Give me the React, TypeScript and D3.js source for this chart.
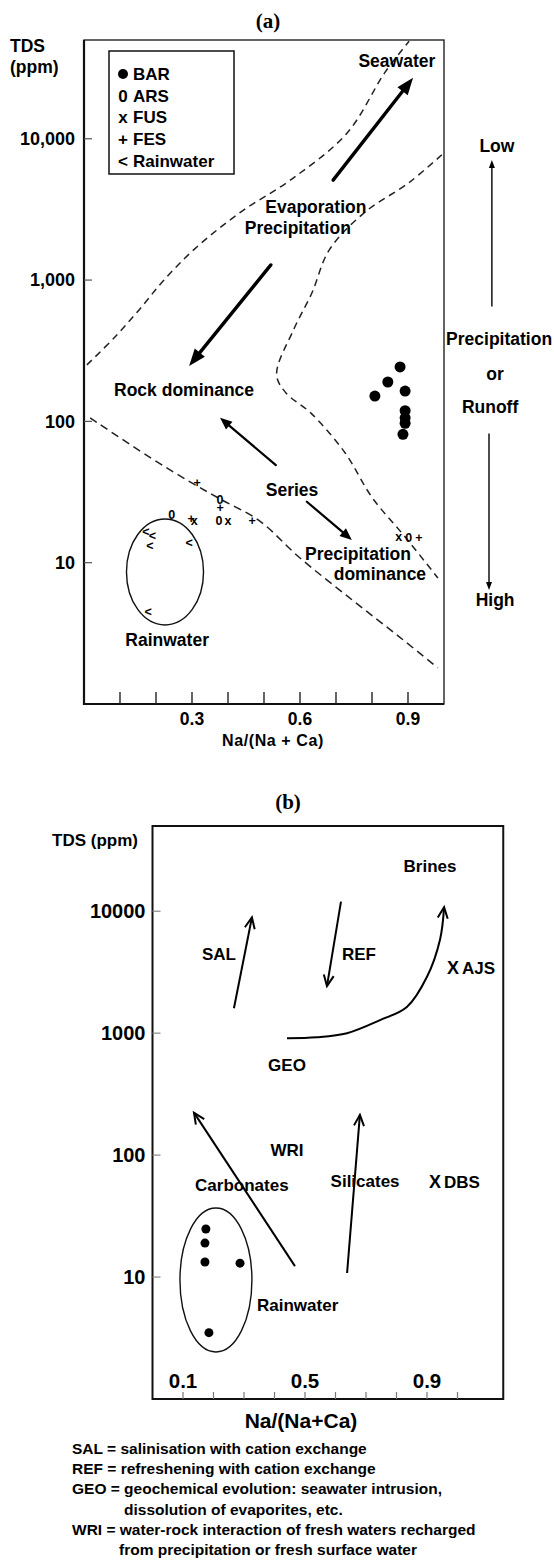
import React from "react";
import * as d3 from "d3";

const W = 554;
const H = 1561;
const SANS = "'Liberation Sans', Arial, Helvetica, sans-serif";
const SERIF = "'Liberation Serif', 'Times New Roman', serif";

// ---------- panel (a): Gibbs diagram, [Na/(Na+Ca), TDS ppm] ----------
const xTicksA = [0.1, 0.2, 0.3, 0.4, 0.5, 0.6, 0.7, 0.8, 0.9];
const xLabelsA = [0.3, 0.6, 0.9];
const yTicksA = [10, 100, 1000, 10000];

const barA = [[0.878, 243], [0.844, 190], [0.808, 151], [0.892, 164], [0.892, 119], [0.892, 106], [0.892, 97], [0.886, 81]];
const arsA = [[0.244, 22], [0.378, 28], [0.375, 20], [0.902, 15]];
const fusA = [[0.306, 20], [0.4, 20], [0.874, 15.3]];
const fesA = [[0.314, 37], [0.378, 24.4], [0.467, 19.7], [0.93, 15], [0.298, 20.5]];
const rainA = [[0.172, 16.5], [0.19, 15.5], [0.183, 13.1], [0.292, 13.8], [0.178, 4.5]];

const seriesA = [
  { name: "BAR", sym: "dot", data: barA },
  { name: "ARS", sym: "0", data: arsA },
  { name: "FUS", sym: "x", data: fusA },
  { name: "FES", sym: "+", data: fesA },
  { name: "Rainwater", sym: "<", data: rainA },
];

const upperBoundA = [[0.008, 251], [0.086, 396], [0.153, 615], [0.219, 980], [0.306, 1650], [0.433, 3000], [0.578, 5200], [0.731, 11000], [0.836, 29500], [0.903, 49000]];
const rightBoundA = [[0.994, 7700], [0.903, 4900], [0.778, 2990], [0.681, 1630], [0.633, 810], [0.583, 450], [0.535, 215], [0.56, 160], [0.631, 114], [0.725, 60], [0.8, 29], [0.894, 15], [0.983, 7.8]];
const lowerBoundA = [[0.017, 106], [0.181, 56], [0.297, 37], [0.383, 27.8], [0.485, 20], [0.6, 10.8], [0.747, 5.4], [0.875, 3.0], [0.983, 1.8]];

const arrowsA = [
  { from: [0.692, 5100], to: [0.914, 27000], heavy: true },
  { from: [0.519, 1280], to: [0.292, 247], heavy: true },
  { from: [0.533, 49], to: [0.378, 106], heavy: false },
  { from: [0.619, 27], to: [0.744, 14.5], heavy: false },
];

const labelsA = [
  { text: "Seawater", at: [0.869, 32200] },
  { text: "Evaporation", at: [0.644, 2985] },
  { text: "Precipitation", at: [0.594, 2120] },
  { text: "Rock dominance", at: [0.278, 151] },
  { text: "Series", at: [0.578, 29.6] },
  { text: "Precipitation", at: [0.761, 10.5] },
  { text: "dominance", at: [0.822, 7.5] },
  { text: "Rainwater", at: [0.231, 2.57] },
  { text: "Low", at: [1.147, 8070] },
  { text: "Precipitation", at: [1.153, 347] },
  { text: "or", at: [1.142, 196] },
  { text: "Runoff", at: [1.128, 114] },
  { text: "High", at: [1.142, 4.94] },
];
const runoffArrowsA = [
  { from: [1.133, 656], to: [1.133, 7080] },
  { from: [1.125, 81.5], to: [1.125, 6.4] },
];
const rainEllipseA = { cx: 0.225, cy: 8.6, rx: 0.107, ry: 0.375 };

// ---------- panel (b) ----------
const xTicksB = [0.1, 0.2, 0.3, 0.4, 0.5, 0.6, 0.7, 0.8, 0.9, 1.0];
const xLabelsB = [0.1, 0.5, 0.9];
const yTicksB = [10, 100, 1000, 10000];

const rainB = [[0.175, 24.8], [0.172, 19], [0.172, 13.3], [0.287, 13], [0.185, 3.5]];
const springsB = [
  { name: "AJS", at: [0.985, 3435] },
  { name: "DBS", at: [0.926, 60] },
];
const rainEllipseB = { cx: 0.208, cy: 9.46, rx: 0.118, ry: 0.59 };

const arrowsB = [
  { from: [0.267, 1600], to: [0.326, 8900] },
  { from: [0.618, 12000], to: [0.572, 2430] },
  { from: [0.467, 12.3], to: [0.136, 223] },
  { from: [0.638, 10.8], to: [0.68, 214] },
];
const geoCurveB = [[0.441, 910], [0.539, 927], [0.638, 1000], [0.746, 1280], [0.834, 1640], [0.9, 2900], [0.943, 5900], [0.956, 10800]];

const labelsB = [
  { text: "Brines", at: [0.91, 21000] },
  { text: "SAL", at: [0.218, 3990] },
  { text: "REF", at: [0.677, 3990] },
  { text: "GEO", at: [0.441, 490] },
  { text: "WRI", at: [0.441, 98] },
  { text: "Carbonates", at: [0.293, 50.8] },
  { text: "Silicates", at: [0.697, 54.8] },
];

const notesB = [
  ["SAL = salinisation with cation exchange", 0],
  ["REF = refreshening with cation exchange", 0],
  ["GEO = geochemical evolution: seawater intrusion,", 0],
  ["dissolution of evaporites, etc.", 1],
  ["WRI = water-rock interaction of fresh waters recharged", 0],
  ["from precipitation or fresh surface water", 2],
];

// scales
const xa = d3.scaleLinear().domain([0, 1]).range([84, 444]);
const ya = d3.scaleLog().domain([1, 50000]).range([704, 40]);
const xb = d3.scaleLinear().domain([0, 1.15]).range([152.5, 503.25]);
const yb = d3.scaleLog().domain([1, 50000]).range([1399, 826]);

function head(x1, y1, x2, y2, len, half) {
  const L = Math.hypot(x2 - x1, y2 - y1);
  const ux = (x2 - x1) / L, uy = (y2 - y1) / L;
  const bx = x2 - ux * len, by = y2 - uy * len;
  return {
    bx, by,
    l: [bx - uy * half, by + ux * half],
    r: [bx + uy * half, by - ux * half],
  };
}

function FilledArrow({ x1, y1, x2, y2, sw, len, half }) {
  const h = head(x1, y1, x2, y2, len, half);
  return (
    <g>
      <line x1={x1} y1={y1} x2={h.bx} y2={h.by} stroke="#000" strokeWidth={sw} strokeLinecap="round" />
      <polygon points={`${x2},${y2} ${h.l[0]},${h.l[1]} ${h.r[0]},${h.r[1]}`} fill="#000" />
    </g>
  );
}

function OpenHead({ x1, y1, x2, y2 }) {
  const h = head(x1, y1, x2, y2, 11, 5);
  return <path d={`M${h.l[0]},${h.l[1]}L${x2},${y2}L${h.r[0]},${h.r[1]}`} fill="none" stroke="#000" strokeWidth={2} strokeLinejoin="miter" />;
}

function Glyph({ sym, x, y }) {
  if (sym === "dot") return <circle cx={x} cy={y} r={5.5} fill="#000" />;
  return (
    <text x={x} y={y} dy="0.35em" textAnchor="middle" fontSize={12.5} fontFamily={SANS}>
      {sym}
    </text>
  );
}

function PanelA() {
  const dash = d3.line().x(d => xa(d[0])).y(d => ya(d[1])).curve(d3.curveCatmullRom.alpha(0.5));
  const fmt = d3.format(",");
  const [x0, x1] = xa.range();
  const [yBot, yTop] = ya.range();
  const e = rainEllipseA;
  return (
    <g fontFamily={SANS} fontWeight="bold">
      <text x={268} y={28} textAnchor="middle" fontFamily={SERIF} fontSize={21} fontWeight="bold">(a)</text>
      <text x={10} y={52} fontSize={17.5}>TDS</text>
      <text x={10} y={73} fontSize={17.5}>(ppm)</text>

      {/* frame */}
      <rect x={x0} y={yTop} width={x1 - x0} height={yBot - yTop} fill="none" stroke="#111" strokeWidth={1.3} />
      <line x1={x0} y1={yTop} x2={x0} y2={yBot + 1} stroke="#111" strokeWidth={2.2} />
      <line x1={x0} y1={yBot} x2={x1} y2={yBot} stroke="#111" strokeWidth={2.2} />

      {yTicksA.map(t => (
        <g key={t}>
          <line x1={x0} x2={x0 + 8} y1={ya(t)} y2={ya(t)} stroke="#555" strokeWidth={1.2} />
          <text x={x0 - 9} y={ya(t)} dy="0.35em" textAnchor="end" fontSize={18}>{fmt(t)}</text>
        </g>
      ))}
      {xTicksA.map(t => (
        <line key={t} x1={xa(t)} x2={xa(t)} y1={yBot - 12} y2={yBot} stroke="#222" strokeWidth={1.4} />
      ))}
      {xLabelsA.map(t => (
        <text key={t} x={xa(t)} y={725} textAnchor="middle" fontSize={17.5}>{t.toFixed(1)}</text>
      ))}
      <text x={(x0 + x1) / 2 + 9} y={746} textAnchor="middle" fontSize={16} letterSpacing={0.6}>Na/(Na + Ca)</text>

      {/* dashed boundaries */}
      {[upperBoundA, rightBoundA, lowerBoundA].map((b, i) => (
        <path key={i} d={dash(b)} fill="none" stroke="#222" strokeWidth={1.5} strokeDasharray={i === 2 ? "8 5" : "7 5"} />
      ))}

      <ellipse cx={xa(e.cx)} cy={ya(e.cy)} rx={xa(e.cx + e.rx) - xa(e.cx)} ry={ya(e.cy) - ya(e.cy * Math.pow(10, e.ry))} fill="none" stroke="#111" strokeWidth={1.4} />

      {arrowsA.map((a, i) => (
        <FilledArrow key={i} x1={xa(a.from[0])} y1={ya(a.from[1])} x2={xa(a.to[0])} y2={ya(a.to[1])}
          sw={a.heavy ? 3.4 : 2.2} len={a.heavy ? 17 : 12} half={a.heavy ? 6.5 : 5} />
      ))}
      {runoffArrowsA.map((a, i) => (
        <FilledArrow key={i} x1={xa(a.from[0])} y1={ya(a.from[1])} x2={xa(a.to[0])} y2={ya(a.to[1])} sw={1.4} len={8} half={3} />
      ))}

      {labelsA.map((l, i) => (
        <text key={i} x={xa(l.at[0])} y={ya(l.at[1])} textAnchor="middle" fontSize={17.5}>{l.text}</text>
      ))}

      {seriesA.map(s => s.data.map((d, i) => (
        <Glyph key={s.name + i} sym={s.sym} x={xa(d[0])} y={ya(d[1])} />
      )))}

      {/* legend */}
      <rect x={109} y={51} width={125} height={123} fill="#fff" stroke="#111" strokeWidth={1.5} />
      {seriesA.map((s, i) => (
        <g key={s.name} transform={`translate(0,${80 + i * 21.7})`}>
          {s.sym === "dot"
            ? <circle cx={123} cy={-6} r={5} fill="#000" />
            : <text x={123} y={0} textAnchor="middle" fontSize={17}>{s.sym}</text>}
          <text x={133} y={0} fontSize={17}>{s.name}</text>
        </g>
      ))}
    </g>
  );
}

function PanelB() {
  const curve = d3.line().x(d => xb(d[0])).y(d => yb(d[1])).curve(d3.curveCatmullRom.alpha(0.5));
  const [x0, x1] = xb.range();
  const [yBot, yTop] = yb.range();
  const e = rainEllipseB;
  const n = geoCurveB.length;
  const pA = geoCurveB[n - 2], pB = geoCurveB[n - 1];
  return (
    <g fontFamily={SANS} fontWeight="bold">
      <text x={288} y={809} textAnchor="middle" fontFamily={SERIF} fontSize={21} fontWeight="bold">(b)</text>
      <text x={52} y={846} fontSize={17}>TDS (ppm)</text>

      <rect x={x0} y={yTop} width={x1 - x0} height={yBot - yTop} fill="none" stroke="#111" strokeWidth={2} />

      {yTicksB.map(t => (
        <g key={t}>
          <line x1={x0} x2={x0 + 8} y1={yb(t)} y2={yb(t)} stroke="#888" strokeWidth={1.2} />
          <text x={x0 - 7} y={yb(t)} dy="0.35em" textAnchor="end" fontSize={20}>{t}</text>
        </g>
      ))}
      {xTicksB.map(t => (
        <line key={t} x1={xb(t)} x2={xb(t)} y1={yBot - 7} y2={yBot} stroke="#777" strokeWidth={1.2} />
      ))}
      {xLabelsB.map(t => (
        <text key={t} x={xb(t)} y={1388} textAnchor="middle" fontSize={20.5}>{t.toFixed(1)}</text>
      ))}
      <text x={301} y={1428} textAnchor="middle" fontSize={21}>Na/(Na+Ca)</text>

      <ellipse cx={xb(e.cx)} cy={yb(e.cy)} rx={xb(e.cx + e.rx) - xb(e.cx)} ry={yb(e.cy) - yb(e.cy * Math.pow(10, e.ry))} fill="none" stroke="#111" strokeWidth={1.4} />
      {rainB.map((d, i) => <circle key={i} cx={xb(d[0])} cy={yb(d[1])} r={4.5} fill="#000" />)}
      <text x={257} y={1311} fontSize={17}>Rainwater</text>

      {arrowsB.map((a, i) => (
        <g key={i}>
          <line x1={xb(a.from[0])} y1={yb(a.from[1])} x2={xb(a.to[0])} y2={yb(a.to[1])} stroke="#000" strokeWidth={2} />
          <OpenHead x1={xb(a.from[0])} y1={yb(a.from[1])} x2={xb(a.to[0])} y2={yb(a.to[1])} />
        </g>
      ))}
      <path d={curve(geoCurveB)} fill="none" stroke="#000" strokeWidth={2} />
      <OpenHead x1={xb(pA[0])} y1={yb(pA[1])} x2={xb(pB[0])} y2={yb(pB[1])} />

      {labelsB.map((l, i) => (
        <text key={i} x={xb(l.at[0])} y={yb(l.at[1])} textAnchor="middle" fontSize={17}>{l.text}</text>
      ))}
      {springsB.map(s => (
        <g key={s.name}>
          <text x={xb(s.at[0])} y={yb(s.at[1])} dy="0.35em" textAnchor="middle" fontSize={18}>X</text>
          <text x={xb(s.at[0]) + 9} y={yb(s.at[1])} dy="0.35em" fontSize={17}>{s.name}</text>
        </g>
      ))}

      {notesB.map(([t, ind], i) => (
        <text key={i} x={ind === 0 ? 72 : ind === 1 ? 124 : 119} y={1454 + i * 20.2} fontSize={15.5}>{t}</text>
      ))}
    </g>
  );
}

export default function App() {
  return (
    <svg width={W} height={H} viewBox={`0 0 ${W} ${H}`} style={{ position: "absolute", left: 0, top: 0, background: "#fff" }}>
      <rect width={W} height={H} fill="#fff" />
      <PanelA />
      <PanelB />
    </svg>
  );
}
